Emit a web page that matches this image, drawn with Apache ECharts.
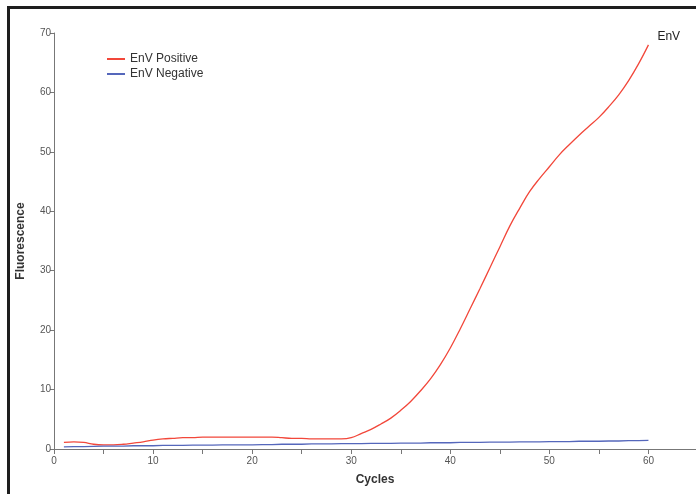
<!DOCTYPE html>
<html>
<head>
<meta charset="utf-8">
<script src="https://cdn.jsdelivr.net/npm/echarts@6/dist/echarts.min.js"></script>
<style>
  html, body { margin: 0; padding: 0; background: #fff; }
  #chart { width: 696px; height: 494px; }
</style>
</head>
<body>
<div id="chart"></div>
<script>
// cycles 1..60
const cycles = [
    1, 2, 3, 4, 5, 6, 7, 8, 9, 10,
    11, 12, 13, 14, 15, 16, 17, 18, 19, 20,
    21, 22, 23, 24, 25, 26, 27, 28, 29, 30,
    31, 32, 33, 34, 35, 36, 37, 38, 39, 40,
    41, 42, 43, 44, 45, 46, 47, 48, 49, 50,
    51, 52, 53, 54, 55, 56, 57, 58, 59, 60
];

const positiveValues = [
    1.1, 1.2, 1.1, 0.8, 0.7, 0.7, 0.8, 1.0, 1.2, 1.5,
    1.7, 1.8, 1.9, 1.9, 2.0, 2.0, 2.0, 2.0, 2.0, 2.0,
    2.0, 2.0, 1.9, 1.8, 1.8, 1.7, 1.7, 1.7, 1.7, 1.9,
    2.6, 3.3, 4.2, 5.2, 6.5, 8.0, 9.8, 11.8, 14.2, 17.0,
    20.2, 23.6, 27.0, 30.5, 34.0, 37.5, 40.5, 43.3, 45.5, 47.5,
    49.5, 51.2, 52.8, 54.3, 55.8, 57.6, 59.6, 62.0, 64.8, 68.0
];

const negativeValues = [
    0.35, 0.4, 0.4, 0.45, 0.5, 0.5, 0.5, 0.55, 0.55, 0.55,
    0.6, 0.6, 0.6, 0.65, 0.65, 0.65, 0.7, 0.7, 0.7, 0.7,
    0.75, 0.75, 0.8, 0.8, 0.8, 0.85, 0.85, 0.85, 0.9, 0.9,
    0.9, 0.95, 0.95, 0.95, 1.0, 1.0, 1.0, 1.05, 1.05, 1.05,
    1.1, 1.1, 1.1, 1.15, 1.15, 1.15, 1.2, 1.2, 1.2, 1.25,
    1.25, 1.25, 1.3, 1.3, 1.3, 1.35, 1.35, 1.4, 1.4, 1.45
];

const seriesNames = ['EnV Positive', 'EnV Negative'];
const yTicks = [0, 10, 20, 30, 40, 50, 60, 70];

const font = 'Liberation Sans, Arial, sans-serif';

function pairs(xs, ys) {
    return xs.map((x, i) => [x, ys[i]]);
}

const chart = echarts.init(document.getElementById('chart'));

chart.setOption({
    animation: false,
    backgroundColor: '#fff',
    textStyle: { fontFamily: font },
    grid: { left: 54, right: 0, top: 33, bottom: 45 },
    legend: {
        left: 102,
        top: 48,
        orient: 'vertical',
        itemGap: 3,
        itemWidth: 18,
        itemHeight: 2,
        icon: 'rect',
        textStyle: { fontSize: 12, color: '#333', fontFamily: font },
        data: seriesNames
    },
    xAxis: {
        type: 'value',
        min: 0,
        max: 64.8,
        interval: 5,
        name: 'Cycles',
        nameLocation: 'middle',
        nameGap: 25,
        nameTextStyle: { fontSize: 12, fontWeight: 'bold', color: '#333' },
        splitLine: { show: false },
        axisLine: { lineStyle: { color: '#777', width: 1 } },
        axisTick: { length: 5, lineStyle: { color: '#777' } },
        axisLabel: {
            fontSize: 10,
            color: '#555',
            margin: 7,
            showMaxLabel: false,
            formatter: v => (v % 10 === 0 && v <= 60) ? String(v) : ''
        }
    },
    yAxis: {
        type: 'value',
        min: yTicks[0],
        max: yTicks[yTicks.length - 1],
        interval: 10,
        name: 'Fluorescence',
        nameLocation: 'middle',
        nameGap: 27,
        nameTextStyle: { fontSize: 12, fontWeight: 'bold', color: '#333' },
        splitLine: { show: false },
        axisLine: { show: true, lineStyle: { color: '#777', width: 1 } },
        axisTick: { show: true, length: 4, lineStyle: { color: '#777' } },
        axisLabel: { fontSize: 10, color: '#555', margin: 3 }
    },
    series: [
        {
            name: seriesNames[0],
            type: 'line',
            smooth: 0.4,
            showSymbol: false,
            color: '#f2473a',
            lineStyle: { width: 1.3, color: '#f2473a' },
            data: pairs(cycles, positiveValues),
            endLabel: {
                show: true,
                formatter: 'EnV',
                fontSize: 12,
                color: '#222',
                offset: [1, -8]
            }
        },
        {
            name: seriesNames[1],
            type: 'line',
            showSymbol: false,
            color: '#5567bb',
            lineStyle: { width: 1.3, color: '#5567bb' },
            data: pairs(cycles, negativeValues)
        }
    ],
    graphic: [
        {
            type: 'polyline',
            shape: { points: [[8.5, 494], [8.5, 7.5], [696, 7.5]] },
            style: { stroke: '#1e1e1e', lineWidth: 3, fill: null }
        }
    ]
});
</script>
</body>
</html>
